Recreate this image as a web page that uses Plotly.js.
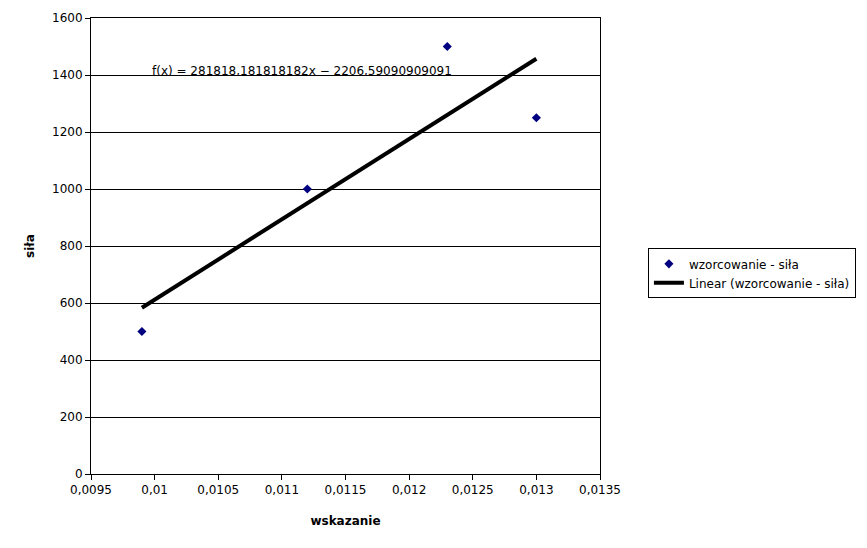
<!DOCTYPE html>
<html><head><meta charset="utf-8">
<script src="https://cdn.plot.ly/plotly-3.0.1.min.js"></script>
<style>body{margin:0;padding:0;background:#fff}#chart{width:867px;height:548px}</style>
</head><body><div id="chart"></div>
<script>
const wskazanie = [0.0099, 0.0112, 0.0123, 0.013];
const sila = [500, 1000, 1500, 1250];
const xTicks = [0.0095, 0.01, 0.0105, 0.011, 0.0115, 0.012, 0.0125, 0.013, 0.0135];
const xTickText = ['0,0095','0,01','0,0105','0,011','0,0115','0,012','0,0125','0,013','0,0135'];
const yTicks = [0, 200, 400, 600, 800, 1000, 1200, 1400, 1600];

// least-squares fit
const n = wskazanie.length;
const mx = wskazanie.reduce((a,b)=>a+b,0)/n;
const my = sila.reduce((a,b)=>a+b,0)/n;
let sxy=0, sxx=0;
for (let i=0;i<n;i++){ sxy += (wskazanie[i]-mx)*(sila[i]-my); sxx += (wskazanie[i]-mx)**2; }
const slope = sxy/sxx, intercept = my - slope*mx;
const xmin = Math.min(...wskazanie), xmax = Math.max(...wskazanie);
const fitX = [xmin, xmax];
const fitY = fitX.map(x => slope*x + intercept);
const eqText = 'f(x) = 281818,181818182x − 2206,59090909091';

const font = {family: 'DejaVu Sans, sans-serif', size: 12, color: '#000'};
const data = [
  {x: wskazanie, y: sila, type: 'scatter', mode: 'markers', name: 'wzorcowanie - siła',
   marker: {symbol: 'diamond', size: 7, color: '#000080'}},
  {x: fitX, y: fitY, type: 'scatter', mode: 'lines', name: 'Linear (wzorcowanie - siła)',
   line: {color: '#000', width: 4}}
];
const layout = {
  width: 867, height: 548,
  margin: {l: 91, r: 266, t: 18, b: 74},
  paper_bgcolor: '#fff', plot_bgcolor: '#fff',
  font: font,
  showlegend: true,
  legend: {x: 1.092, y: 0.44, xanchor: 'left', yanchor: 'middle', bordercolor: '#000', borderwidth: 1,
           font: {family: 'DejaVu Sans, sans-serif', size: 12, color: '#000'}, tracegroupgap: 0,
           itemwidth: 30},
  xaxis: {range: [0.0095, 0.0135], tickvals: xTicks, ticktext: xTickText, showgrid: false,
          zeroline: false, showline: true, linecolor: '#000', linewidth: 1, mirror: true,
          ticks: 'outside', ticklen: 5, tickcolor: '#000',
          title: {text: '<b>wskazanie</b>', font: {family: 'DejaVu Sans, sans-serif', size: 12}, standoff: 20}},
  yaxis: {range: [0, 1600], tickvals: yTicks, showgrid: true, gridcolor: '#000', gridwidth: 1,
          zeroline: false, showline: true, linecolor: '#000', linewidth: 1, mirror: true,
          ticks: 'outside', ticklen: 5, tickcolor: '#000',
          title: {text: '<b>siła</b>', font: {family: 'DejaVu Sans, sans-serif', size: 12}, standoff: 14}},
  annotations: [{xref: 'paper', yref: 'y', x: (150-91)/510, y: 1415, xanchor: 'left', yanchor: 'middle',
                 text: eqText, showarrow: false, font: {family: 'DejaVu Sans, sans-serif', size: 12, color: '#000'}}]
};
Plotly.newPlot('chart', data, layout, {displayModeBar: false, staticPlot: true});
</script></body></html>
